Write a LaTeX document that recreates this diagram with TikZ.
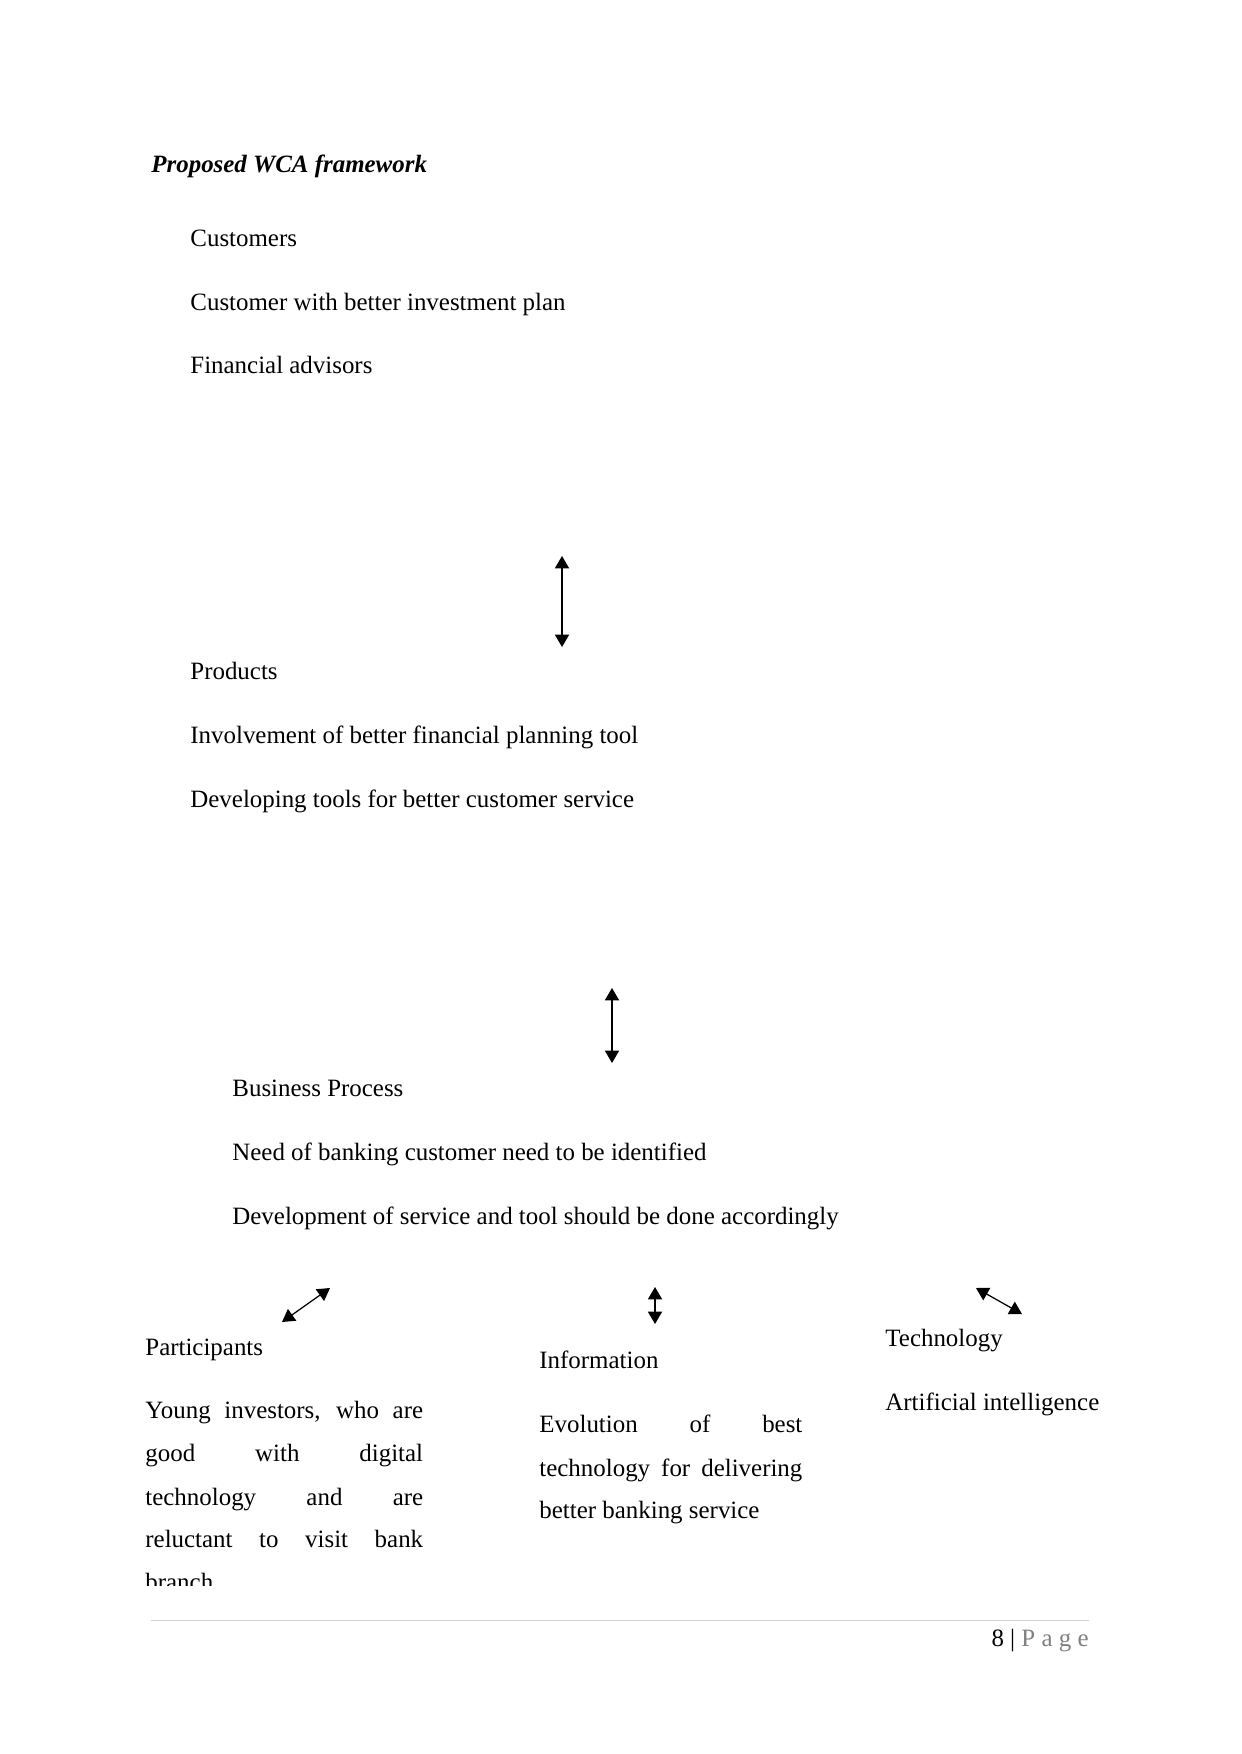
\documentclass[tikz,border=0pt]{standalone}
\usepackage{fontspec}
\setmainfont{Liberation Serif}
\usetikzlibrary{arrows.meta}

\begin{document}
\begin{tikzpicture}[x=0.016922cm,y=-0.016922cm,font=\fontsize{12}{14}\selectfont,
txt/.style={anchor=base west,inner sep=0pt},
dbl/.style={{Triangle[length=2.1mm,width=2.4mm]}-{Triangle[length=2.1mm,width=2.4mm]},line width=0.6pt}]
\useasboundingbox (0,0) rectangle (1241,1754);
% heading
\node[txt] (title) at (151,173){\textbf{\textit{Proposed WCA framework}}};
% customers block
\node[txt] (cu1) at (190,247){Customers};
\node[txt] (cu2) at (190,311){Customer with better investment plan};
\node[txt] (cu3) at (190,374){Financial advisors};
\coordinate (a1t) at (562,556);\coordinate (a1b) at (562,647);
\draw[dbl] (a1t) -- (a1b);
% products block
\node[txt] (pr1) at (190,679){Products};
\node[txt] (pr2) at (190,743){Involvement of better financial planning tool};
\node[txt] (pr3) at (190,807){Developing tools for better customer service};
\coordinate (a2t) at (612,988);\coordinate (a2b) at (612,1063);
\draw[dbl] (a2t) -- (a2b);
% business process block
\node[txt] (bp1) at (232,1096){Business Process};
\node[txt] (bp2) at (232,1160){Need of banking customer need to be identified};
\node[txt] (bp3) at (232,1224){Development of service and tool should be done accordingly};
% three branches
\coordinate (a3a) at (282,1322);\coordinate (a3b) at (330,1288);
\draw[dbl] (a3a) -- (a3b);
\coordinate (a4t) at (655,1287);\coordinate (a4b) at (655,1324);
\draw[dbl] (a4t) -- (a4b);
\coordinate (a5a) at (976,1288);\coordinate (a5b) at (1022,1314);
\draw[dbl] (a5a) -- (a5b);
\node[txt] (pa) at (145,1355){Participants};
\begin{scope}
\clip (0,0) rectangle (1241,1585);
\foreach \i/\y/\t in {1/1418/{Young investors, who are},2/1461/{good with digital},3/1505/{technology and are},4/1547/{reluctant to visit bank}}
{\node[txt] (yi\i) at (145,\y){\makebox[4.70cm][s]{\t}};}
\node[txt] (yi5) at (145,1590){branch};
\end{scope}
\node[txt] (in) at (539,1368){Information};
\foreach \i/\y/\t in {1/1432/{Evolution of best},2/1476/{technology for delivering}}
{\node[txt] (ev\i) at (539,\y){\makebox[4.45cm][s]{\t}};}
\node[txt] (ev3) at (539,1518){better banking service};
\node[txt] (te) at (885,1346){Technology};
\node[txt] (ai) at (885,1410){Artificial intelligence};
% footer
\coordinate (fl) at (151,1620);\coordinate (fr) at (1089,1620);
\draw[gray!35,line width=0.5pt] (fl) -- (fr);
\node[anchor=base east,inner sep=0pt] (pg) at (1089,1646){8 | {\color{gray}P a g e}};
\end{tikzpicture}
\end{document}
